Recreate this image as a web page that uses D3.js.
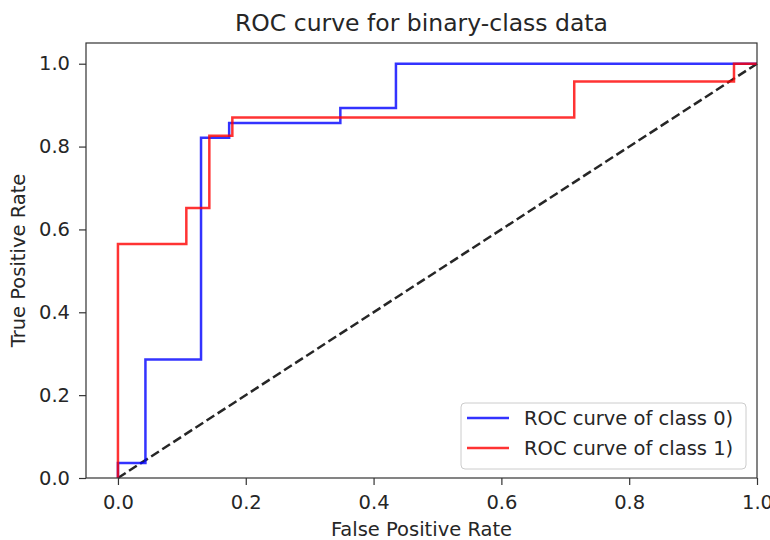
<!DOCTYPE html>
<html>
<head>
<meta charset="utf-8">
<script src="https://cdn.jsdelivr.net/npm/d3@7"></script>
<style>
  body { margin: 0; background: #fff; }
  text { font-family: "DejaVu Sans", sans-serif; fill: #262626; }
</style>
</head>
<body>
<script>
// ROC points
const fpr0 = [0, 0, 0.043, 0.043, 0.130, 0.130, 0.174, 0.174, 0.348, 0.348, 0.435, 0.435, 1.0]
const tpr0 = [0, 0.036, 0.036, 0.286, 0.286, 0.821, 0.821, 0.857, 0.857, 0.893, 0.893, 1.0, 1.0]
const fpr1 = [0, 0, 0.107, 0.107, 0.143, 0.143, 0.179, 0.179, 0.714, 0.714, 0.964, 0.964, 1.0]
const tpr1 = [0, 0.565, 0.565, 0.652, 0.652, 0.826, 0.826, 0.870, 0.870, 0.957, 0.957, 1.0, 1.0]
const seriesNames = ['ROC curve of class 0)', 'ROC curve of class 1)']
const tickValues = [0, 0.2, 0.4, 0.6, 0.8, 1.0]

const width = 770
const height = 540
const margin = {left: 86, right: 13, top: 43, bottom: 62}
const fontSize = '19.5px'

const svg = d3.select('body').append('svg').attr('width', width).attr('height', height)

const x = d3.scaleLinear().domain([-0.05, 1.0]).range([margin.left, width - margin.right])
const y = d3.scaleLinear().domain([0, 1.05]).range([height - margin.bottom, margin.top])

const line = d3.line().x(d => x(d[0])).y(d => y(d[1]))

const plot = svg.append('g')

// diagonal
plot.append('path')
  .datum([[0, 0], [1, 1]])
  .attr('d', line)
  .attr('fill', 'none')
  .attr('stroke', '#000')
  .attr('stroke-opacity', 0.85)
  .attr('stroke-width', 2.5)
  .attr('stroke-dasharray', '9.2,4')

const curves = [
  {pts: d3.zip(fpr0, tpr0), color: 'blue'},
  {pts: d3.zip(fpr1, tpr1), color: 'red'}
]

curves.forEach(c => {
  plot.append('path')
    .datum(c.pts)
    .attr('d', line)
    .attr('fill', 'none')
    .attr('stroke', c.color)
    .attr('stroke-opacity', 0.8)
    .attr('stroke-width', 2.5)
})

// axes
const fmt = d3.format('.1f')
const xAxis = svg.append('g')
  .attr('transform', `translate(0,${height - margin.bottom})`)
  .call(d3.axisBottom(x).tickValues(tickValues).tickFormat(fmt).tickSize(7).tickPadding(10))
const yAxis = svg.append('g')
  .attr('transform', `translate(${margin.left},0)`)
  .call(d3.axisLeft(y).tickValues(tickValues).tickFormat(fmt).tickSize(7).tickPadding(9))

;[xAxis, yAxis].forEach(a => {
  a.select('.domain').remove()
  a.selectAll('.tick line').attr('stroke', '#333').attr('stroke-width', 1.2)
  a.selectAll('.tick text').style('font-size', fontSize).attr('fill', '#262626')
})

// frame
svg.append('rect')
  .attr('x', margin.left).attr('y', margin.top)
  .attr('width', width - margin.left - margin.right)
  .attr('height', height - margin.top - margin.bottom)
  .attr('fill', 'none').attr('stroke', '#333').attr('stroke-width', 1.2)

// labels
svg.append('text').text('ROC curve for binary-class data')
  .attr('x', (margin.left + width - margin.right) / 2).attr('y', 31)
  .attr('text-anchor', 'middle').style('font-size', '23.5px')
svg.append('text').text('False Positive Rate')
  .attr('x', (margin.left + width - margin.right) / 2).attr('y', 536)
  .attr('text-anchor', 'middle').style('font-size', fontSize)
svg.append('text').text('True Positive Rate')
  .attr('transform', `translate(25,${(margin.top + height - margin.bottom) / 2}) rotate(-90)`)
  .attr('text-anchor', 'middle').style('font-size', fontSize)

// legend
const legend = svg.append('g').attr('transform', 'translate(461,403)')
legend.append('rect')
  .attr('width', 285).attr('height', 66).attr('rx', 4)
  .attr('fill', '#fff').attr('fill-opacity', 0.8)
  .attr('stroke', '#ccc').attr('stroke-width', 1)
seriesNames.forEach((name, i) => {
  const g = legend.append('g').attr('transform', `translate(0,${15 + i * 30})`)
  g.append('line').attr('x1', 6).attr('x2', 48)
    .attr('stroke', curves[i].color).attr('stroke-opacity', 0.8).attr('stroke-width', 2.5)
  g.append('text').text(name).attr('x', 63).attr('dy', '0.35em').style('font-size', fontSize)
})
</script>
</body>
</html>
